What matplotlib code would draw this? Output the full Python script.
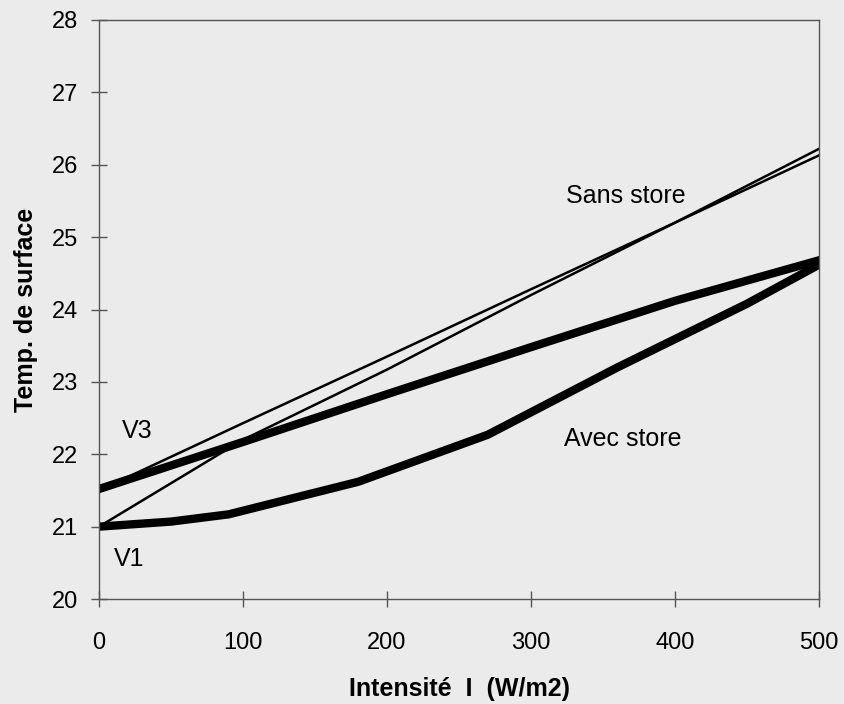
import matplotlib.pyplot as plt

# Intensité du rayonnement (W/m2)
intensite = [0, 100, 200, 300, 400, 500]
intensite_v1_store = [0, 50, 90, 180, 270, 360, 450, 500]

# Température de surface, sans store
v1_sans_store = [21.0, 22.2, 23.17, 24.2, 25.2, 26.22]
v3_sans_store = [21.5, 22.43, 23.35, 24.28, 25.2, 26.13]

# Température de surface, avec store
v3_avec_store = [21.52, 22.17, 22.83, 23.48, 24.12, 24.68]
v1_avec_store = [21.0, 21.07, 21.17, 21.62, 22.27, 23.2, 24.08, 24.62]

fond = '#ebebeb'
plt.rcParams['font.family'] = ['Liberation Sans', 'DejaVu Sans']

fig = plt.figure(figsize=(8.44, 7.04), dpi=100, facecolor=fond)
ax = fig.add_axes([0.1173, 0.1491, 0.8531, 0.8225], facecolor=fond)

# Courbes fines : sans store
ax.plot(intensite, v1_sans_store, color='black', lw=1.8)
ax.plot(intensite, v3_sans_store, color='black', lw=1.8)

# Courbes épaisses : avec store
ax.plot(intensite, v3_avec_store, color='black', lw=6,
        solid_capstyle='projecting', solid_joinstyle='round')
ax.plot(intensite_v1_store, v1_avec_store, color='black', lw=6,
        solid_capstyle='projecting', solid_joinstyle='round')

# Annotations
ax.text(324, 25.57, 'Sans store', fontsize=18, ha='left', va='center')
ax.text(323, 22.21, 'Avec store', fontsize=18, ha='left', va='center')
ax.text(16, 22.32, 'V3', fontsize=18, ha='left', va='center')
ax.text(10, 20.55, 'V1', fontsize=18, ha='left', va='center')

ax.set_xlim(0, 500)
ax.set_ylim(20, 28)
ax.set_xticks(range(0, 501, 100))
ax.set_yticks(range(20, 29))

ax.tick_params(axis='both', direction='inout', length=12, width=1, color='#555555',
               labelsize=17)
ax.tick_params(axis='x', pad=18)
ax.tick_params(axis='y', pad=9)

for cote in ax.spines.values():
    cote.set_color('#555555')
    cote.set_linewidth(1)

ax.set_xlabel('Intensité  I  (W/m2)', fontsize=18, fontweight='bold', labelpad=16)
ax.set_ylabel('Temp. de surface', fontsize=18, fontweight='bold', labelpad=10)

plt.savefig('out.png', dpi=100, facecolor=fond)
